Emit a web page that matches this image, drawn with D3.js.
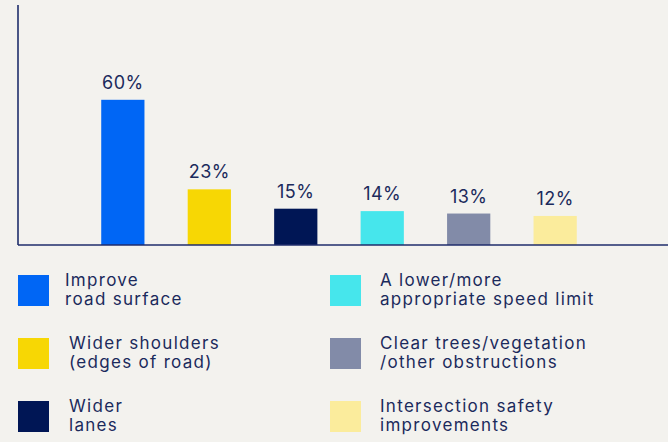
<!DOCTYPE html>
<html>
<head>
<meta charset="utf-8">
<script src="https://cdn.jsdelivr.net/npm/d3@7"></script>
<style>
  body { margin: 0; background: #f3f2ee; }
  svg { display: block; }
  text { font-family: Inter, "Noto Sans", sans-serif; fill: #1b2a5c; }
</style>
</head>
<body>
<script>
var width = 668;
var height = 442;

var categories = ["Improve road surface", "Wider shoulders (edges of road)", "Wider lanes",
  "A lower/more appropriate speed limit", "Clear trees/vegetation /other obstructions",
  "Intersection safety improvements"];
var values = [60, 23, 15, 14, 13, 12];
var colors = ["#0066f5", "#f7d704", "#001655", "#46e6ec", "#828ba8", "#fbec9c"];
var legendLines = [["Improve", "road surface"], ["Wider shoulders", "(edges of road)"], ["Wider", "lanes"],
  ["A lower/more", "appropriate speed limit"], ["Clear trees/vegetation", "/other obstructions"],
  ["Intersection safety", "improvements"]];

var svg = d3.select("body")
  .append("svg")
  .attr("width", width)
  .attr("height", height);

svg.append("rect").attr("width", width).attr("height", height).attr("fill", "#f3f2ee");

var x = d3.scaleBand()
  .domain(categories)
  .range([58, 620])
  .padding(0.5);

var y = d3.scaleLinear()
  .domain([0, 100])
  .range([245, 3]);

svg.selectAll("rect.bar")
  .data(values)
  .enter()
  .append("rect")
  .attr("class", "bar")
  .attr("x", function(d, i){ return x(categories[i]); })
  .attr("y", function(d){ return y(d); })
  .attr("width", x.bandwidth())
  .attr("height", function(d){ return y(0) - y(d); })
  .attr("fill", function(d, i){ return colors[i]; });

svg.selectAll("text.val")
  .data(values)
  .enter()
  .append("text")
  .attr("class", "val")
  .attr("x", function(d, i){ return x(categories[i]) + x.bandwidth() / 2; })
  .attr("y", function(d){ return y(d) - 11; })
  .attr("text-anchor", "middle")
  .style("font-size", "18px")
  .style("letter-spacing", "0.5px")
  .text(function(d){ return d + "%"; });

// axes, drawn as plain lines
svg.append("line")
  .attr("x1", 18).attr("x2", 18)
  .attr("y1", 5).attr("y2", y(0))
  .attr("stroke", "#1f2d6b").attr("stroke-width", 1.6);
svg.append("line")
  .attr("x1", 18).attr("x2", width)
  .attr("y1", y(0)).attr("y2", y(0))
  .attr("stroke", "#1f2d6b").attr("stroke-width", 1.6);

// legend
var legend = svg.selectAll("g.leg")
  .data(categories)
  .enter()
  .append("g")
  .attr("class", "leg")
  .attr("transform", function(d, i){
    return "translate(" + (i < 3 ? 18 : 330) + "," + (275 + (i % 3) * 63) + ")";
  });

legend.append("rect")
  .attr("width", 31).attr("height", 31)
  .attr("fill", function(d, i){ return colors[i]; });

legend.append("text")
  .attr("y", 10.5)
  .style("font-size", "17px")
  .style("letter-spacing", "1.3px")
  .each(function(d, i){
    var t = d3.select(this);
    legendLines[i].forEach(function(line, k){
      t.append("tspan")
        .attr("x", (i === 1 || i === 2) ? 51 : (i < 3 ? 47 : 50))
        .attr("dy", k === 0 ? 0 : 19.5)
        .text(line);
    });
  });
</script>
</body>
</html>
